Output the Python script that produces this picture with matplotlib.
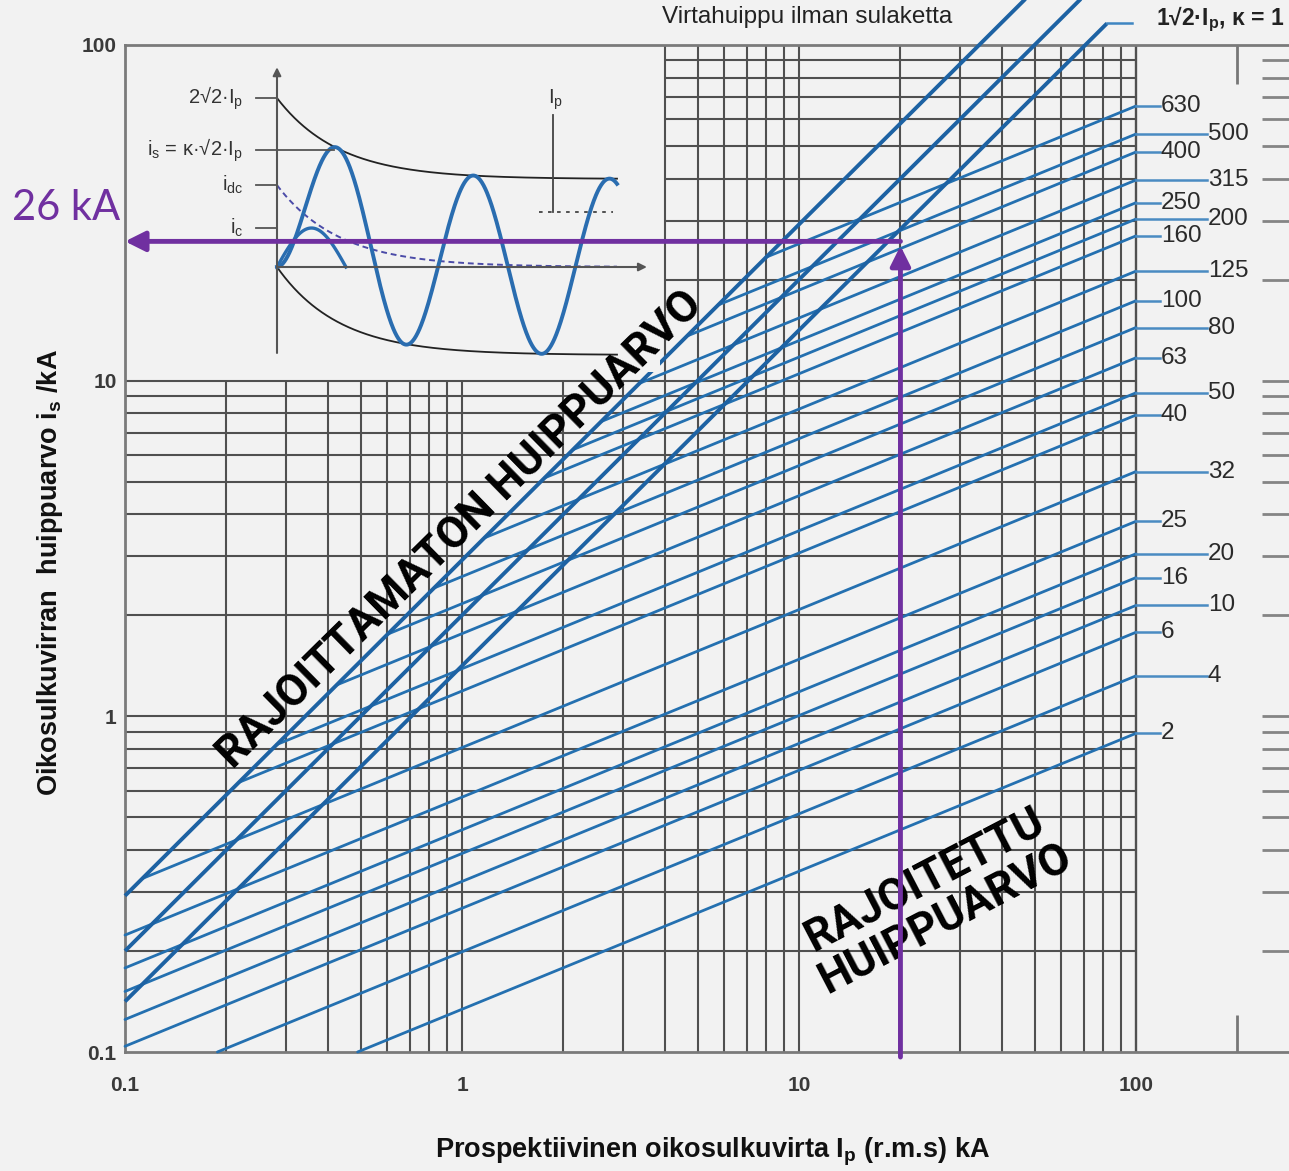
import numpy as np
import matplotlib
matplotlib.use("Agg")
import matplotlib.pyplot as plt

plt.rcParams['font.family'] = ['Liberation Sans', 'DejaVu Sans']
plt.rcParams['mathtext.fontset'] = 'custom'
plt.rcParams['mathtext.rm'] = 'Liberation Sans'

# ---------------- data ----------------
x_ticks = [0.1, 1, 10, 100]
x_tick_labels = ['0.1', '1', '10', '100']
y_ticks = [0.1, 1, 10, 100]
y_tick_labels = ['0.1', '1', '10', '100']

# unlimited peak lines  i_s = factor * I_p
peak_factor = [2.92, 2.0, 1.414]
peak_line_end_ip = [48.0, 70.0, 82.0]

# fuse cut-off lines (start point and end point at I_p = 100 kA)
fuse_labels = ['630', '500', '400', '315', '250', '200', '160', '125', '100', '80',
               '63', '50', '40', '32', '25', '20', '16', '10', '6', '4', '2']
fuse_end_ip = [100] * 21
fuse_end_peak = [65.8, 54.3, 48.0, 39.6, 33.9, 30.3, 27.0, 21.2, 17.3, 14.4,
                 11.7, 9.2, 7.9, 5.36, 3.81, 3.05, 2.59, 2.14, 1.78, 1.32, 0.89]
fuse_start_ip = [7.97, 5.75, 4.67, 3.37, 2.585, 2.135, 1.756, 1.165, 0.825, 0.604,
                 0.4246, 0.282, 0.218, 0.1128, 0.1, 0.1, 0.1, 0.1, 0.1, 0.188, 0.49]
fuse_start_peak = [23.3, 16.8, 13.6, 9.83, 7.55, 6.23, 5.13, 3.40, 2.41, 1.76,
                   1.24, 0.824, 0.636, 0.329, 0.223, 0.178, 0.1515, 0.125, 0.104, 0.1, 0.1]
fuse_label_far = [False, True, False, True, False, True, False, True, False, True,
                  False, True, False, True, False, True, False, True, False, True, False]

grid_values = [k * 10.0 ** d for d in (-1, 0, 1) for k in range(1, 10)] + [100.0]

example_ip = 20.0
example_peak = 26.0
example_label = '26 kA'

# ---------------- layout helpers ----------------
W, H = 1289, 1171
BG = '#f2f2f2'
def fx(px): return px / W
def fy(py): return 1 - py / H

fig = plt.figure(figsize=(W / 100, H / 100), dpi=100, facecolor=BG)

ax = fig.add_axes([fx(125), fy(1052), (W - 125) / W, (1052 - 45) / H], zorder=0)
ax.set_facecolor(BG)
ax.set_xscale('log'); ax.set_yscale('log')
XMAX = 10 ** (-1 + (W - 125) / 337.0)
ax.set_xlim(0.1, XMAX)
ax.set_ylim(0.1, 100)
ax.set_xticks(x_ticks, labels=x_tick_labels)
ax.set_yticks(y_ticks, labels=y_tick_labels)
ax.minorticks_off()
ax.tick_params(length=0, labelsize=15, labelcolor='#3a3a3a')
for lab in ax.get_xticklabels() + ax.get_yticklabels():
    lab.set_fontweight('bold')
ax.tick_params(axis='x', pad=17)
ax.tick_params(axis='y', pad=6)
ax.spines['right'].set_visible(False)
for s in ('left', 'top', 'bottom'):
    ax.spines[s].set_color('#7a7a7a')
    ax.spines[s].set_linewidth(2)

GRID_C = '#505050'
for g in grid_values:
    if 0.1 < g < 100:
        ytop = 10 if g < 3.99 else 100
        ax.vlines(g, 0.1, ytop, color=GRID_C, lw=1.5, zorder=1)
for g in grid_values:
    if g <= 0.1 or g >= 100:
        continue
    xmin = 4 if g > 10.01 else 0.1
    ax.hlines(g, xmin, 100, color=GRID_C, lw=1.5, zorder=1)
ax.vlines(100, 0.1, 100, color=GRID_C, lw=1.7, zorder=1)

# right-hand tick stubs
for g in grid_values:
    if 0.1 < g < 100:
        ax.hlines(g, 237, XMAX, color='#858585', lw=2, zorder=1, clip_on=False)
ax.vlines(200, 76.6, 100, color='#777777', lw=2, zorder=1)
ax.vlines(200, 0.1, 0.129, color='#777777', lw=2, zorder=1)

# unlimited peak lines
STEEP_C = '#1d62a3'
for f, xe in zip(peak_factor, peak_line_end_ip):
    xs = np.array([0.1, xe])
    ax.plot(xs, f * xs, color=STEEP_C, lw=2.8, solid_capstyle='butt',
            clip_on=False, zorder=4)
# leader of the kappa = 1 line
ax.plot([peak_line_end_ip[2], 97.3], [peak_factor[2] * peak_line_end_ip[2]] * 2,
        color='#3f86c2', lw=1.8, clip_on=False, zorder=4)
ax.text(115, 119.4, '1√2·I$_\\mathregular{p}$, κ = 1', fontsize=16.5, color='#222222',
        ha='left', va='center', fontweight='bold', clip_on=False)

# fuse lines
FUSE_C = '#2470b0'
LEAD_C = '#4a8bc2'
for lab, x0, y0, x1, y1, far in zip(fuse_labels, fuse_start_ip, fuse_start_peak,
                                     fuse_end_ip, fuse_end_peak, fuse_label_far):
    ax.plot([x0, x1], [y0, y1], color=FUSE_C, lw=2.0, zorder=3, clip_on=False,
            solid_capstyle='round')
    lead_end = 162.5 if far else 117.8
    ax.plot([x1, lead_end], [y1, y1], color=LEAD_C, lw=1.8, zorder=3, clip_on=False)
    ax.text(lead_end * 1.006, y1, lab, fontsize=17.5, color='#2a2a2a',
            ha='left', va='center', clip_on=False)

# ---------------- inset schematic ----------------
L, T, R, B = 127, 47, 660, 372
OX, OY, PER, AMP = 277, 267, 136.0, 88.0
ax_in = fig.add_axes([fx(L), fy(B), (R - L) / W, (B - T) / H], zorder=1)
ax_in.set_facecolor(BG)
ax_in.set_xlim((L - OX) / PER, (R - OX) / PER)
ax_in.set_ylim((OY - B) / AMP, (OY - T) / AMP)
ax_in.set_xticks([]); ax_in.set_yticks([])
for s in ax_in.spines.values():
    s.set_visible(False)

tau = 0.456
phase = 0.055
t = np.linspace(0, 2.5, 600)
dc = np.exp(-t / tau)
ax_in.plot(t, 1.0 + 0.92 * dc, color='#222222', lw=1.3)
ax_in.plot(t, dc - 1.0, color='#222222', lw=1.3)
ax_in.plot(t, 0.93 * dc, color='#4b4ba8', lw=1.4, ls=(0, (3, 2)))
ax_in.plot(t, np.cos(2 * np.pi * phase) * dc - np.cos(2 * np.pi * (t + phase)),
           color='#2a6db0', lw=2.8)
t2 = np.linspace(0, 0.507, 100)
ax_in.plot(t2, 0.443 * np.sin(np.pi * t2 / 0.507), color='#2a6db0', lw=2.4)
ax_in.annotate('', xy=(0, 2.27), xytext=(0, -0.977),
               arrowprops=dict(arrowstyle='-|>', color='#555555', lw=1.5,
                               mutation_scale=12, shrinkA=0, shrinkB=0))
ax_in.annotate('', xy=(2.72, 0), xytext=(0, 0),
               arrowprops=dict(arrowstyle='-|>', color='#555555', lw=1.5,
                               mutation_scale=12, shrinkA=0, shrinkB=0))
levels = [1.92, 1.33, 0.93, 0.443]
level_end = [0, 0.42, 0, 0]
level_text = ['2√2·I$_\\mathregular{p}$', 'i$_\\mathregular{s}$ = κ·√2·I$_\\mathregular{p}$',
              'i$_\\mathregular{dc}$', 'i$_\\mathregular{c}$']
for lv, le, lt in zip(levels, level_end, level_text):
    ax_in.plot([-0.154, le], [lv, lv], color='#555555', lw=1.3)
    ax_in.text(-0.25, lv, lt, ha='right', va='center', fontsize=14.5, color='#333333')
ax_in.plot([2.03, 2.03], [1.73, 0.625], color='#444444', lw=1.3)
ax_in.plot([1.93, 2.47], [0.625, 0.625], color='#444444', lw=1.3, ls=(0, (2, 3)))
ax_in.text(2.05, 1.90, 'I$_\\mathregular{p}$', ha='center', va='center', fontsize=14.5,
           color='#333333')

# ---------------- texts ----------------
fig.text(fx(662), fy(17), 'Virtahuippu ilman sulaketta', fontsize=17.5, color='#222222',
         ha='left', va='center')
fig.text(fx(50), fy(573), 'Oikosulkuvirran  huippuarvo i$_\\mathregular{s}$ /kA',
         rotation=90, ha='center', va='center', fontsize=19.5, fontweight='bold',
         family=['Liberation Sans Narrow', 'Liberation Sans'], color='#111111')
fig.text(fx(713), fy(1152), 'Prospektiivinen oikosulkuvirta I$_\\mathregular{p}$ (r.m.s) kA',
         ha='center', va='center', fontsize=19.5, fontweight='bold',
         family=['Liberation Sans Narrow', 'Liberation Sans'], color='#111111')
fig.text(fx(460), fy(530), 'RAJOITTAMATON HUIPPUARVO', rotation=44.5,
         rotation_mode='anchor', ha='center', va='center', fontsize=32,
         fontweight='bold', family=['Roboto', 'DejaVu Sans'], color='black')
fig.text(fx(935), fy(900), 'RAJOITETTU\nHUIPPUARVO', rotation=27.5,
         rotation_mode='anchor', ha='center', va='center', fontsize=32,
         fontweight='bold', family=['Roboto', 'DejaVu Sans'], color='black',
         linespacing=1.05)
fig.text(fx(12), fy(208), example_label, fontsize=30, color='#7030a0',
         ha='left', va='center', family=['Lato', 'DejaVu Sans'])

# ---------------- purple overlay ----------------
ax_ov = fig.add_axes(ax.get_position().bounds, zorder=5)
ax_ov.set_xscale('log'); ax_ov.set_yscale('log')
ax_ov.set_xlim(ax.get_xlim()); ax_ov.set_ylim(ax.get_ylim())
ax_ov.axis('off')
PUR = '#7030a0'
ax_ov.annotate('', xy=(0.1, example_peak), xytext=(example_ip, example_peak),
               annotation_clip=False,
               arrowprops=dict(arrowstyle='-|>', color=PUR, lw=3.5, mutation_scale=30,
                               shrinkA=0, shrinkB=0))
ax_ov.annotate('', xy=(example_ip, example_peak * 0.97), xytext=(example_ip, 0.0966),
               annotation_clip=False,
               arrowprops=dict(arrowstyle='-|>', color=PUR, lw=3.5, mutation_scale=30,
                               shrinkA=0, shrinkB=0))

fig.savefig('out.png', dpi=100, facecolor=BG)
